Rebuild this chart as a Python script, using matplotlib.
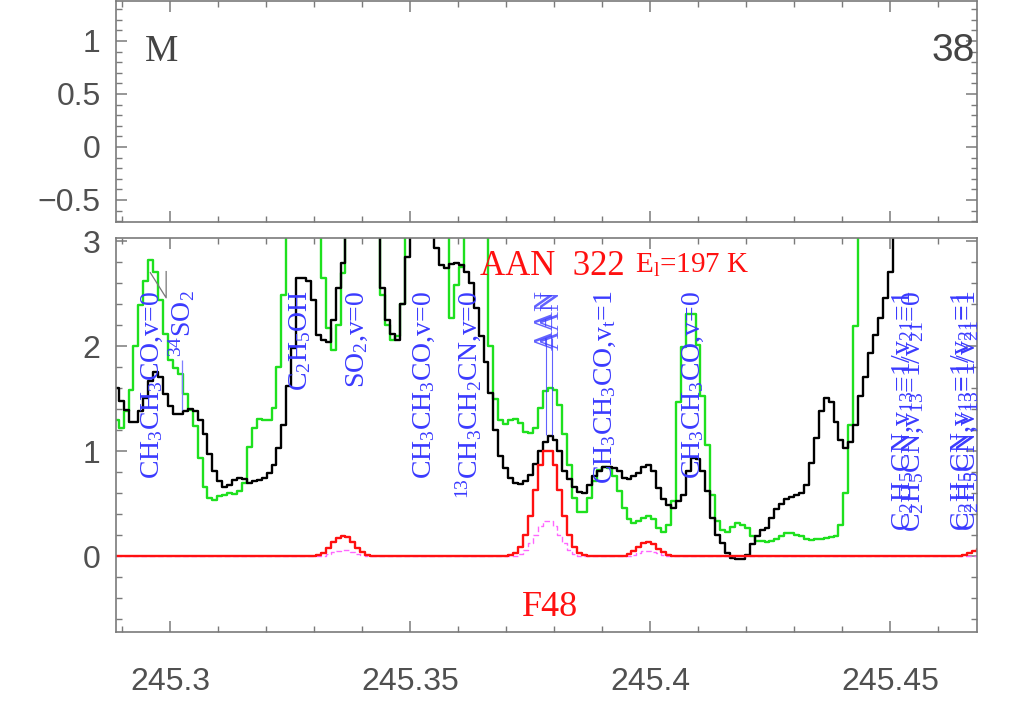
import numpy as np
import matplotlib
matplotlib.use('Agg')
from matplotlib import pyplot as plt
from matplotlib.ticker import MultipleLocator, FuncFormatter

plt.rcParams['font.family'] = ['Liberation Sans', 'DejaVu Sans']
plt.rcParams['mathtext.fontset'] = 'custom'
plt.rcParams['mathtext.rm'] = 'Liberation Serif'
plt.rcParams['mathtext.it'] = 'Liberation Serif:italic'
plt.rcParams['mathtext.bf'] = 'Liberation Serif:bold'

# channel grid (GHz)
f0 = 245.28880
df = 0.0010271

# observed spectrum (black)
obs = [
    1.60, 1.48, 1.39, 1.28, 1.28, 1.38, 1.51, 1.67, 1.75, 1.71,
    1.54, 1.43, 1.35, 1.35, 1.38, 1.40, 1.38, 1.30, 1.16, 0.97,
    0.81, 0.71, 0.66, 0.68, 0.72, 0.74, 0.73, 0.70, 0.71, 0.72,
    0.74, 0.79, 0.87, 1.03, 1.25, 1.62, 1.98, 2.65, 2.65, 2.62,
    2.44, 2.11, 2.06, 2.04, 2.25, 2.55, 2.79, 3.60, 3.60, 3.60,
    3.60, 3.60, 3.60, 3.60, 2.55, 2.25, 2.12, 2.06, 2.40, 2.85,
    3.60, 3.60, 3.60, 3.60, 3.60, 2.93, 2.77, 2.74, 2.78, 2.79,
    2.77, 2.71, 2.60, 2.36, 2.10, 1.85, 1.55, 1.20, 0.95, 0.84,
    0.74, 0.70, 0.69, 0.71, 0.77, 0.88, 1.00, 1.09, 1.14, 1.11,
    1.00, 0.81, 0.73, 0.66, 0.61, 0.60, 0.68, 0.76, 0.81, 0.85,
    0.85, 0.84, 0.81, 0.74, 0.73, 0.76, 0.79, 0.85, 0.87, 0.81,
    0.65, 0.54, 0.49, 0.46, 0.52, 0.58, 0.81, 0.93, 0.92, 0.81,
    0.62, 0.36, 0.20, 0.12, 0.03, -0.02, -0.03, -0.03, 0.01, 0.11,
    0.19, 0.25, 0.27, 0.36, 0.45, 0.50, 0.54, 0.56, 0.58, 0.60,
    0.68, 0.89, 1.12, 1.38, 1.51, 1.47, 1.28, 1.11, 1.03, 1.09,
    1.25, 1.52, 1.71, 1.93, 2.11, 2.27, 2.46, 2.71, 3.60, 3.60,
    3.60, 3.60, 3.60, 3.60, 3.60, 3.60, 3.60, 3.60, 3.60, 3.60,
    3.60, 3.60, 3.60, 3.60, 3.60, 3.60,
]

# second spectrum (green)
other = [
    1.30, 1.22, 1.38, 1.58, 2.00, 2.39, 2.62, 2.82, 2.71, 2.44,
    2.12, 1.87, 1.79, 1.73, 1.54, 1.39, 1.24, 0.93, 0.66, 0.55,
    0.53, 0.57, 0.58, 0.60, 0.59, 0.62, 0.70, 1.04, 1.22, 1.31,
    1.30, 1.30, 1.41, 1.80, 2.49, 3.60, 3.60, 3.60, 3.60, 3.60,
    3.60, 3.60, 2.65, 2.17, 1.96, 2.20, 2.70, 3.60, 3.60, 3.60,
    3.60, 3.60, 3.60, 3.60, 2.49, 2.20, 2.06, 2.10, 2.40, 3.60,
    3.60, 3.60, 3.60, 3.60, 3.60, 3.60, 3.60, 3.60, 2.27, 2.58,
    2.75, 3.60, 3.60, 3.60, 3.60, 3.60, 2.00, 1.50, 1.30, 1.26,
    1.30, 1.31, 1.27, 1.18, 1.17, 1.22, 1.41, 1.57, 1.60, 1.58,
    1.44, 1.16, 0.87, 0.55, 0.42, 0.42, 0.55, 0.71, 0.82, 0.85,
    0.84, 0.76, 0.62, 0.46, 0.35, 0.31, 0.33, 0.36, 0.38, 0.35,
    0.27, 0.23, 0.30, 0.52, 1.47, 1.99, 2.31, 2.31, 2.01, 1.52,
    1.06, 0.58, 0.33, 0.25, 0.23, 0.28, 0.31, 0.30, 0.27, 0.19,
    0.14, 0.14, 0.13, 0.14, 0.16, 0.19, 0.22, 0.22, 0.20, 0.19,
    0.16, 0.15, 0.16, 0.16, 0.17, 0.18, 0.19, 0.30, 0.60, 1.25,
    2.19, 3.60, 3.60, 3.60, 3.60, 3.60, 3.60, 3.60, 3.60, 3.60,
    3.60, 3.60, 3.60, 3.60, 3.60, 3.60, 3.60, 3.60, 3.60, 3.60,
    3.60, 3.60, 3.60, 3.60, 3.60, 3.60,
]

# AAN model (red)
model = [
    0, 0, 0, 0, 0, 0, 0, 0, 0, 0,
    0, 0, 0, 0, 0, 0, 0, 0, 0, 0,
    0, 0, 0, 0, 0, 0, 0, 0, 0, 0,
    0, 0, 0, 0, 0, 0, 0, 0, 0, 0,
    0, 0.01, 0.03, 0.08, 0.13, 0.17, 0.19, 0.18, 0.13, 0.08,
    0.04, 0.01, 0, 0, 0, 0, 0, 0, 0, 0,
    0, 0, 0, 0, 0, 0, 0, 0, 0, 0,
    0, 0, 0, 0, 0, 0, 0, 0, 0, 0,
    0.01, 0.03, 0.09, 0.20, 0.38, 0.63, 0.87, 1.00, 1.00, 0.87,
    0.63, 0.38, 0.20, 0.09, 0.03, 0.01, 0, 0, 0, 0,
    0, 0, 0, 0, 0.02, 0.05, 0.09, 0.12, 0.13, 0.11,
    0.07, 0.04, 0.01, 0, 0, 0, 0, 0, 0, 0,
    0, 0, 0, 0, 0, 0, 0, 0, 0, 0,
    0, 0, 0, 0, 0, 0, 0, 0, 0, 0,
    0, 0, 0, 0, 0, 0, 0, 0, 0, 0,
    0, 0, 0, 0, 0, 0, 0, 0, 0, 0,
    0, 0, 0, 0, 0, 0, 0, 0, 0, 0,
    0, 0, 0.01, 0.03, 0.05, 0.07,
]

# second model (magenta dashed)
model2 = [
    0, 0, 0, 0, 0, 0, 0, 0, 0, 0,
    0, 0, 0, 0, 0, 0, 0, 0, 0, 0,
    0, 0, 0, 0, 0, 0, 0, 0, 0, 0,
    0, 0, 0, 0, 0, 0, 0, 0, 0, 0,
    0, 0, 0, 0.02, 0.04, 0.05, 0.06, 0.055, 0.04, 0.02,
    0.01, 0, 0, 0, 0, 0, 0, 0, 0, 0,
    0, 0, 0, 0, 0, 0, 0, 0, 0, 0,
    0, 0, 0, 0, 0, 0, 0, 0, 0, 0,
    0, 0, 0.02, 0.06, 0.12, 0.20, 0.29, 0.33, 0.33, 0.29,
    0.20, 0.12, 0.06, 0.02, 0, 0, 0, 0, 0, 0,
    0, 0, 0, 0, 0, 0.01, 0.03, 0.045, 0.05, 0.04,
    0.025, 0.01, 0, 0, 0, 0, 0, 0, 0, 0,
    0, 0, 0, 0, 0, 0, 0, 0, 0, 0,
    0, 0, 0, 0, 0, 0, 0, 0, 0, 0,
    0, 0, 0, 0, 0, 0, 0, 0, 0, 0,
    0, 0, 0, 0, 0, 0, 0, 0, 0, 0,
    0, 0, 0, 0, 0, 0, 0, 0, 0, 0,
    0, 0, 0, 0, 0, 0,
]

# line identifications (GHz, label)
line_freqs = [245.29625, 245.30250, 245.32708, 245.33896, 245.35292,
              245.36208, 245.37833, 245.37958, 245.39063, 245.40896,
              245.45271, 245.45480, 245.46500, 245.46640]
line_names = [r'CH$_3$CH$_3$CO,v=0', r'$^{34}$SO$_2$', r'C$_2$H$_5$OH',
              r'SO$_2$,v=0', r'CH$_3$CH$_3$CO,v=0', r'$^{13}$CH$_3$CH$_2$CN,v=0',
              'AAN', 'AAN', r'CH$_3$CH$_3$CO,v$_{\rm t}$=1', r'CH$_3$CH$_3$CO,v=0',
              r'C$_2$H$_5$CN,v$_{13}$=1/v$_{21}$=1', r'C$_2$H$_5$CN,v$_{13}$=1/v$_{21}$=0',
              r'C$_2$H$_5$CN,v$_{13}$=1/v$_{21}$=1', r'C$_2$H$_5$CN,v$_{13}$=1/v$_{21}$=1']

freq = f0 + df * np.arange(len(obs))


def fmt(v, pos):
    s = '%g' % round(v, 3)
    return s.replace('-', '\u2212')


fig = plt.figure(figsize=(10.25, 7.17), dpi=100)
ax_top = fig.add_axes([0.11317, 0.69038, 0.84, 0.30823])
ax = fig.add_axes([0.11317, 0.11855, 0.84, 0.54951])

axcol = '#7a7a7a'
for a in (ax_top, ax):
    for s in a.spines.values():
        s.set_color(axcol)
        s.set_linewidth(1.2)
    a.tick_params(which='both', direction='in', top=True, right=True,
                  colors=axcol, labelcolor='#505050', labelsize=23)
    a.tick_params(which='major', length=8, width=1.1)
    a.tick_params(which='minor', length=4.5, width=1.0)
    a.tick_params(axis='y', pad=11)
    a.xaxis.set_major_locator(MultipleLocator(0.05))
    a.xaxis.set_minor_locator(MultipleLocator(0.01))
    a.xaxis.set_major_formatter(FuncFormatter(fmt))
    a.yaxis.set_major_formatter(FuncFormatter(fmt))
    a.set_xlim(245.28875, 245.468125)

ax_top.set_ylim(-0.708, 1.377)
ax_top.yaxis.set_major_locator(MultipleLocator(0.5))
ax_top.yaxis.set_minor_locator(MultipleLocator(0.1))
ax_top.tick_params(axis='x', labelbottom=False)
ax_top.text(0.034, 0.7285, 'M', transform=ax_top.transAxes, family='Liberation Serif',
            fontsize=27, color='#444444', va='baseline', ha='left')
ax_top.text(0.9977, 0.7285, '38', transform=ax_top.transAxes,
            fontsize=28, color='#444444', va='baseline', ha='right')

ax.set_ylim(-0.724, 3.03)
ax.yaxis.set_major_locator(MultipleLocator(1))
ax.yaxis.set_minor_locator(MultipleLocator(0.2))
ax.tick_params(axis='x', pad=25)

ax.step(freq, other, where='mid', color='#1ee01e', lw=1.7)
ax.step(freq, obs, where='mid', color='black', lw=1.7)
ax.step(freq, model2, where='mid', color='#ff66ff', lw=1.0, ls=(0, (4, 2)))
ax.step(freq, model, where='mid', color='#ff1010', lw=1.7)

blue = '#3a3aff'
for f, name in zip(line_freqs, line_names):
    ax.text(f, 2.53, name, rotation=90, ha='center', va='top', color=blue,
            family='Liberation Serif', fontsize=20, clip_on=True,
            alpha=0.8 if name == 'AAN' else 1.0)

# markers under the AAN and 34SO2 labels
ax.vlines(line_freqs[6:8], 1.15, 2.08, color=blue, lw=0.8, alpha=0.8)
ax.vlines(line_freqs[1], 1.39, 1.87, color='#7f7fff', lw=0.9)
ax.plot([245.2959, 245.2992, 245.2992], [2.70, 2.46, 2.71], color='#777777', lw=0.9)

ax.text(0.4228, 0.906, 'AAN  322', transform=ax.transAxes, color='#ff1010',
        family='Liberation Serif', fontsize=25, va='baseline', ha='left')
ax.text(0.6028, 0.911, r'E$_{\rm l}$=197 K', transform=ax.transAxes, color='#ff1010',
        family='Liberation Serif', fontsize=21, va='baseline', ha='left')
ax.text(0.504, 0.0406, 'F48', transform=ax.transAxes, color='#ff1010',
        family='Liberation Serif', fontsize=26, va='baseline', ha='center')

fig.savefig('out.png', dpi=100)
